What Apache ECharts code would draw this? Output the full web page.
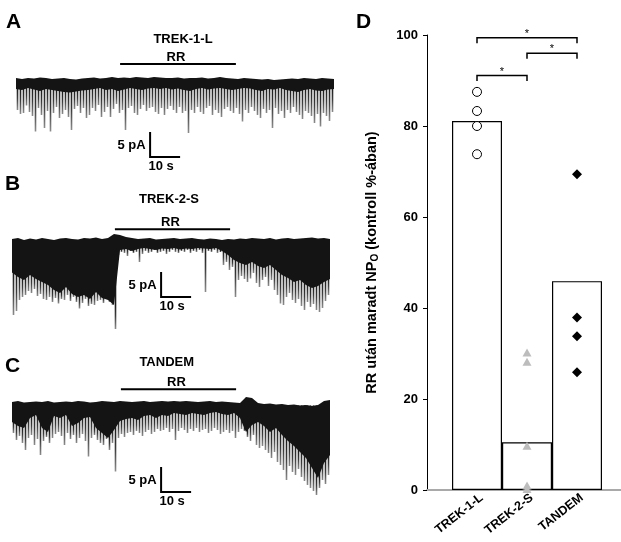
<!DOCTYPE html>
<html><head><meta charset="utf-8">
<script src="https://cdn.jsdelivr.net/npm/echarts@6/dist/echarts.min.js"></script>
<style>html,body{margin:0;padding:0;background:#fff}#c{width:621px;height:542px}</style>
</head><body><div id="c"></div>
<script>
// ---------- Panel D data ----------
const CATEGORIES = ['TREK-1-L', 'TREK-2-S', 'TANDEM'];
const BAR_MEANS = [81.1, 10.5, 45.9];
const TREK1_POINTS = [87.5, 83.3, 80.0, 73.8];
const TREK2_POINTS = [30.2, 28.2, 9.7, 1.0, 0.2];
const TANDEM_POINTS = [69.4, 37.9, 33.8, 25.9];
const Y_TICKS = [0, 20, 40, 60, 80, 100];
const SIG_PAIRS = [[1, 3, 99.4], [2, 3, 96.0], [1, 2, 91.1]];
const SIG_LABELS = ['*', '*', '*'];
const Y_NAME = 'RR után maradt NP{sub|O} (kontroll %-ában)';

// ---------- Panels A-C data (pA vs s) ----------
const TRACE_TITLES = ['TREK-1-L', 'TREK-2-S', 'TANDEM'];
const PANEL_LETTERS = ['A', 'B', 'C', 'D'];
const DRUG_LABEL = 'RR';
const SCALE_PA = 5, SCALE_S = 10;
const SCALE_LABELS = ['5 pA', '10 s'];
const BAND_STEP = 2;   // s between band samples
const TIP_STEP = 1;    // s between spike samples
const RR_A = [34.7, 73.3];
const RR_B = [34.3, 72.7];
const RR_C = [36.3, 74.7];

const A_TOP = [-1.0,-1.2,-1.0,-1.1,-0.9,-1.0,-1.2,-1.1,-1.0,-1.2,
 -1.3,-1.1,-1.0,-0.9,-1.1,-1.0,-0.8,-1.0,-0.9,-1.0,
 -0.8,-0.9,-1.0,-0.8,-0.9,-1.0,-1.0,-0.9,-1.1,-1.0,
 -1.0,-0.9,-1.1,-1.0,-0.8,-1.0,-1.1,-1.2,-1.0,-1.1,
 -1.2,-1.3,-1.2,-1.4,-1.3,-1.2,-1.1,-1.2,-1.0,-1.1,
 -1.2,-1.0,-1.1,-1.2];
const A_DENSE = [-3.2,-3.4,-3.0,-3.3,-3.6,-3.2,-3.4,-3.6,-3.8,-3.9,
 -3.7,-3.5,-3.4,-3.2,-3.0,-3.4,-3.2,-3.6,-3.3,-3.0,
 -3.2,-3.4,-3.1,-3.0,-3.2,-3.0,-3.3,-3.1,-3.4,-3.6,
 -3.2,-3.0,-3.3,-3.1,-3.0,-3.2,-3.4,-3.2,-3.0,-3.1,
 -3.4,-3.6,-3.2,-3.3,-3.0,-3.4,-3.6,-3.8,-3.4,-3.2,
 -3.5,-3.6,-3.3,-3.2];
const A_TIPS = [-7.4,-8.2,-8.0,-6.5,-7.8,-8.6,-11.7,-7.0,-8.4,-11.0,
 -7.6,-11.7,-8.0,-6.8,-9.0,-8.2,-7.4,-8.8,-11.4,-7.2,
 -6.6,-8.0,-7.0,-9.0,-8.4,-7.0,-7.6,-6.4,-8.8,-7.8,
 -6.8,-8.8,-7.2,-6.2,-8.0,-7.4,-11.4,-7.0,-6.6,-8.0,
 -8.4,-7.2,-6.4,-7.6,-7.0,-6.8,-7.8,-8.2,-7.0,-8.4,
 -7.2,-6.6,-7.4,-8.0,-6.8,-8.0,-7.6,-12.0,-7.4,-8.0,
 -6.8,-7.8,-8.2,-7.0,-6.6,-8.4,-7.4,-8.0,-8.8,-7.2,
 -6.8,-7.6,-8.0,-7.0,-8.2,-9.7,-7.4,-8.0,-6.8,-7.6,
 -8.4,-9.0,-7.2,-8.0,-7.4,-11.0,-7.0,-8.2,-7.6,-9.0,
 -7.4,-8.0,-6.8,-7.8,-8.4,-9.2,-7.6,-8.0,-8.6,-10.0,
 -8.2,-10.7,-8.0,-8.6,-9.6,-7.8];

const B_TOP = [-0.8,-0.6,-1.0,-0.7,-0.9,-0.6,-0.8,-1.0,-0.7,-0.6,
 -0.8,-0.9,-0.6,-0.7,-0.5,-0.8,-0.6,0.2,0.0,-0.4,
 -0.6,-0.8,-0.7,-0.6,-0.9,-0.8,-0.7,-0.6,-0.8,-0.7,
 -0.6,-0.8,-0.9,-0.7,-0.8,-1.0,-0.8,-0.9,-0.7,-0.8,
 -0.6,-0.7,-0.8,-0.6,-0.9,-0.7,-0.6,-0.8,-0.7,-0.6,
 -0.5,-0.7,-0.6,-0.8];
const B_DENSE = [-7.5,-8.4,-9.0,-8.0,-8.8,-9.4,
 -10.0,-11.0,-11.6,-10.4,-11.8,-12.4,
 -12.0,-12.8,-11.4,-12.6,-13.0,-14.0,
 -3.0,-2.8,-3.2,-2.8,-2.6,-2.8,-3.0,-2.7,-2.8,-2.6,-2.9,-2.7,-2.8,-2.6,-2.7,-2.8,-2.6,
 -3.2,-4.0,-5.0,-5.6,-6.0,-5.4,-6.2,-6.6,-6.0,-7.0,
 -8.0,-8.6,-9.4,-9.0,-10.0,-10.6,-10.2,-9.4,-8.8];
const B_TIPS = [-16.0,-15.2,-13.0,-12.4,-12.0,-11.2,-11.6,-10.8,-12.2,-11.8,
 -12.8,-13.0,-12.4,-13.4,-12.6,-13.7,-12.8,-13.0,-12.0,-13.2,
 -12.4,-13.4,-14.7,-13.6,-12.8,-14.2,-13.8,-14.0,-13.2,-13.0,
 -13.6,-12.8,-13.4,-14.0,-18.8,-4.0,-3.4,-3.6,-4.2,-3.2,
 -3.6,-3.4,-5.4,-3.8,-3.2,-3.6,-3.4,-3.0,-3.6,-3.4,
 -3.2,-3.8,-3.4,-3.0,-3.4,-3.6,-3.2,-3.4,-3.0,-3.6,
 -3.2,-3.4,-3.0,-3.6,-11.4,-3.2,-3.4,-3.0,-3.6,-3.4,
 -6.0,-5.4,-7.0,-6.4,-12.4,-9.0,-8.2,-8.8,-9.4,-8.7,
 -7.6,-9.6,-10.4,-9.0,-8.4,-10.2,-9.0,-11.0,-12.0,-13.7,
 -14.0,-12.4,-11.6,-13.0,-13.6,-12.8,-14.2,-15.0,-13.4,-14.4,
 -13.8,-15.0,-15.4,-14.6,-13.2,-12.0];

const C_TOP = [-0.8,-0.6,-0.9,-0.8,-0.7,-0.8,-0.6,-0.9,-0.8,-0.7,
 -0.8,-0.6,-0.7,-0.9,-0.8,-0.6,-0.7,-0.8,-0.6,-0.7,
 -0.8,-0.7,-0.6,-0.8,-0.7,-0.6,-0.7,-0.6,-0.7,-0.6,
 -0.7,-0.8,-0.7,-0.6,-0.8,-0.7,-0.8,-0.9,-1.0,0.2,0.0,
 -1.0,-1.2,-1.1,-1.3,-1.2,-1.4,-1.3,-1.5,-1.4,-1.6,-1.4,
 -0.6,-0.4];
const C_DENSE = [-4.8,-5.6,-6.0,-4.0,-3.4,-6.0,-6.8,-3.6,-4.0,-3.4,
 -5.6,-5.0,-4.0,-3.8,-6.0,-7.0,-8.0,-6.4,-4.6,-4.2,-4.0,-4.4,
 -3.6,-3.4,-4.0,-3.4,-3.6,-3.0,-3.2,-3.4,-3.0,-3.2,-3.4,-3.0,-2.8,-3.2,-3.4,-3.0,-4.0,
 -6.8,-5.4,-4.8,-5.6,-6.8,-6.0,
 -7.4,-8.6,-9.6,-10.8,-12.0,-14.0,-16.0,-13.0,-11.4];
const C_TIPS = [-7.0,-8.4,-7.6,-9.0,-10.4,-8.0,-7.4,-9.4,-8.2,-11.4,
 -8.6,-7.8,-9.0,-8.0,-7.2,-6.8,-7.6,-9.4,-7.0,-8.2,
 -7.4,-9.0,-8.0,-7.2,-8.6,-11.7,-8.0,-7.4,-8.4,-9.0,
 -9.4,-8.2,-10.4,-9.0,-14.7,-8.0,-7.2,-7.8,-7.0,-6.8,
 -7.4,-6.6,-7.0,-7.6,-6.8,-6.4,-7.2,-6.8,-6.2,-6.6,
 -6.4,-6.0,-6.8,-6.2,-8.4,-6.6,-6.0,-6.4,-7.0,-6.2,
 -6.6,-6.0,-6.8,-6.4,-6.2,-7.0,-6.6,-6.0,-6.4,-7.2,
 -6.8,-6.4,-7.0,-6.6,-8.0,-6.8,-6.2,-6.6,-7.8,-8.6,
 -7.4,-9.4,-10.0,-9.6,-10.4,-11.0,-12.0,-10.8,-12.8,-13.4,
 -14.4,-16.4,-13.6,-14.8,-15.4,-14.2,-15.8,-16.6,-17.4,-18.0,
 -18.6,-19.4,-18.0,-16.4,-17.2,-15.4];

// ---------- layout / style ----------
const FONT = 'Liberation Sans, Arial, Helvetica, sans-serif';
const TRACE_DURATION = 106;
const TRACES = [
  { top: A_TOP, dense: A_DENSE, tips: A_TIPS, rr: RR_A,
    grid: { left: 16, top: 53, width: 318, height: 115 }, yMax: 4, yMin: -19,
    rrLevel: 1.8, scaleAt: [44.7, -16.8] },
  { top: B_TOP, dense: B_DENSE, tips: B_TIPS, rr: RR_B,
    grid: { left: 12, top: 215, width: 318, height: 115 }, yMax: 4, yMin: -19,
    rrLevel: 1.14, scaleAt: [49.7, -12.4] },
  { top: C_TOP, dense: C_DENSE, tips: C_TIPS, rr: RR_C,
    grid: { left: 12, top: 378, width: 318, height: 130 }, yMax: 4, yMin: -22,
    rrLevel: 1.74, scaleAt: [49.7, -18.8] }
];

const grids = [], xAxes = [], yAxes = [], series = [];
TRACES.forEach((tr, k) => {
  grids.push(tr.grid);
  xAxes.push({ type: 'value', gridIndex: k, min: 0, max: TRACE_DURATION, show: false });
  yAxes.push({ type: 'value', gridIndex: k, min: tr.yMin, max: tr.yMax, show: false });
  // individual spikes: dark near the band, fading to grey at the tip
  series.push({
    type: 'custom', xAxisIndex: k, yAxisIndex: k, z: 1, clip: false, silent: true,
    data: tr.tips.map((v, i) => [i * TIP_STEP + 0.5, v]),
    renderItem: (params, api) => {
      const t = api.value(0), tip = api.value(1);
      const p1 = api.coord([t, -1.5]);
      const p2 = api.coord([t, tip]);
      const dIdx = Math.min(tr.dense.length - 1, Math.round(t / BAND_STEP));
      const pd = api.coord([t, tr.dense[dIdx]]);
      let f = (pd[1] - p1[1]) / Math.max(1, p2[1] - p1[1]);
      f = Math.max(0, Math.min(0.9, f));
      const mid = Math.min(0.97, f + (1 - f) * 0.45);
      return { type: 'line', shape: { x1: p1[0], y1: p1[1], x2: p2[0], y2: p2[1] },
        style: { lineWidth: 1.6, stroke: { type: 'linear', global: true,
          x: p1[0], y: p1[1], x2: p2[0], y2: p2[1],
          colorStops: [{ offset: 0, color: '#111' }, { offset: f, color: '#1c1c1c' },
            { offset: mid, color: '#3c3c3c' }, { offset: 1, color: '#8c8c8c' }] } } };
    }
  });
  // noise band + dense openings
  series.push({
    type: 'custom', xAxisIndex: k, yAxisIndex: k, z: 2, clip: false, silent: true,
    data: [0],
    renderItem: (params, api) => {
      const pts = [];
      tr.top.forEach((v, i) => pts.push(api.coord([i * BAND_STEP, v])));
      for (let i = tr.dense.length - 1; i >= 0; i--) pts.push(api.coord([i * BAND_STEP, tr.dense[i]]));
      return { type: 'polygon', shape: { points: pts }, style: { fill: '#141414' } };
    }
  });
  // RR bar, scale bar and their labels
  series.push({
    type: 'custom', xAxisIndex: k, yAxisIndex: k, z: 3, clip: false, silent: true,
    data: [0],
    renderItem: (params, api) => {
      const r1 = api.coord([tr.rr[0], tr.rrLevel]);
      const r2 = api.coord([tr.rr[1], tr.rrLevel]);
      const corner = api.coord([tr.scaleAt[0], tr.scaleAt[1]]);
      const vTop = api.coord([tr.scaleAt[0], tr.scaleAt[1] + SCALE_PA]);
      const hEnd = api.coord([tr.scaleAt[0] + SCALE_S, tr.scaleAt[1]]);
      const txt = (t, x, y, align) => ({ type: 'text', x: x, y: y,
        style: { text: t, fontSize: 13, fontWeight: 'bold', fontFamily: FONT, fill: '#000',
          align: align, verticalAlign: 'middle' } });
      return { type: 'group', children: [
        { type: 'line', shape: { x1: r1[0], y1: r1[1], x2: r2[0], y2: r2[1] },
          style: { stroke: '#000', lineWidth: 2 } },
        txt(DRUG_LABEL, (r1[0] + r2[0]) / 2 - 2, r1[1] - 7, 'center'),
        { type: 'polyline', shape: { points: [vTop, corner, hEnd] },
          style: { stroke: '#000', lineWidth: 2, fill: null } },
        txt(SCALE_LABELS[0], corner[0] - 4.5, (vTop[1] + corner[1]) / 2 + 1, 'right'),
        txt(SCALE_LABELS[1], corner[0] + 11, corner[1] + 9.5, 'center')
      ] };
    }
  });
});

// ---------- Panel D ----------
const D = 3;
grids.push({ left: 427, top: 35, width: 194, height: 455 });
xAxes.push({
  type: 'value', gridIndex: D, min: 0, max: 3.88, interval: 1,
  axisLine: { show: true, lineStyle: { color: '#a9a9a9', width: 2 } },
  axisTick: { show: false }, splitLine: { show: false },
  axisLabel: { show: true, rotate: 38, margin: 10, fontSize: 12.5, fontWeight: 'bold',
    fontFamily: FONT, color: '#000', showMaxLabel: false, padding: [0, -6, 0, 0],
    formatter: v => CATEGORIES[v - 1] || '' }
});
yAxes.push({
  type: 'value', gridIndex: D, min: Y_TICKS[0], max: Y_TICKS[Y_TICKS.length - 1],
  interval: Y_TICKS[1] - Y_TICKS[0],
  axisLine: { show: true, onZero: false, lineStyle: { color: '#000', width: 1 } },
  axisTick: { show: true, length: 4, lineStyle: { color: '#000', width: 1 } },
  splitLine: { show: false },
  axisLabel: { fontSize: 13, fontWeight: 'bold', fontFamily: FONT, color: '#000', margin: 9 },
  name: Y_NAME, nameLocation: 'middle', nameRotate: 90, nameGap: 47,
  nameTextStyle: { fontSize: 14.5, fontWeight: 'bold', fontFamily: FONT, color: '#000',
    rich: { sub: { fontSize: 10, fontWeight: 'bold', fontFamily: FONT, color: '#000',
      verticalAlign: 'bottom', padding: [6, 0, 0, 0] } } }
});
series.push({
  type: 'bar', xAxisIndex: D, yAxisIndex: D, barWidth: 50, z: 2,
  data: BAR_MEANS.map((v, i) => [i + 1, v]),
  itemStyle: { color: '#fff', borderColor: '#000', borderWidth: 1.2 }
});
series.push({
  type: 'scatter', xAxisIndex: D, yAxisIndex: D, z: 4, symbol: 'circle', symbolSize: 9,
  data: TREK1_POINTS.map(v => [1, v]),
  itemStyle: { color: '#fff', borderColor: '#000', borderWidth: 1, opacity: 1 }
});
series.push({
  type: 'scatter', xAxisIndex: D, yAxisIndex: D, z: 4, symbol: 'triangle', symbolSize: [9, 8],
  data: TREK2_POINTS.map(v => [2, v]),
  itemStyle: { color: '#bdbdbd', opacity: 1 }
});
series.push({
  type: 'scatter', xAxisIndex: D, yAxisIndex: D, z: 4, symbol: 'diamond', symbolSize: 10,
  data: TANDEM_POINTS.map(v => [3, v]),
  itemStyle: { color: '#000', opacity: 1 }
});
series.push({
  type: 'custom', xAxisIndex: D, yAxisIndex: D, z: 5, clip: false, silent: true,
  data: SIG_PAIRS.map((p, i) => [p[0], p[1], p[2], i]),
  renderItem: (params, api) => {
    const a = api.coord([api.value(0), api.value(2)]);
    const b = api.coord([api.value(1), api.value(2)]);
    const drop = 5.5;
    return { type: 'group', children: [
      { type: 'polyline', shape: { points: [[a[0], a[1] + drop], a, b, [b[0], b[1] + drop]] },
        style: { stroke: '#000', lineWidth: 1.5, fill: null } },
      { type: 'text', x: (a[0] + b[0]) / 2, y: a[1] - 4,
        style: { text: SIG_LABELS[api.value(3)], fontSize: 11, fontFamily: FONT, fill: '#000',
          align: 'center', verticalAlign: 'middle' } }
    ] };
  }
});

// ---------- text labels ----------
const label = (t, x, y, size, align) => ({ type: 'text', x: x, y: y, z: 10,
  style: { text: t, fontSize: size, fontWeight: 'bold', fontFamily: FONT, fill: '#000',
    align: align, verticalAlign: 'middle' } });
const graphic = [
  label(PANEL_LETTERS[0], 6, 22.5, 21, 'left'),
  label(PANEL_LETTERS[1], 5, 184.5, 21, 'left'),
  label(PANEL_LETTERS[2], 5, 366, 21, 'left'),
  label(PANEL_LETTERS[3], 356, 22.5, 21, 'left'),
  label(TRACE_TITLES[0], 183, 39, 13, 'center'),
  label(TRACE_TITLES[1], 169, 199.5, 13, 'center'),
  label(TRACE_TITLES[2], 166.7, 362.5, 13, 'center')
];

const chart = echarts.init(document.getElementById('c'), null, { renderer: 'canvas' });
chart.setOption({
  backgroundColor: '#fff', animation: false,
  grid: grids, xAxis: xAxes, yAxis: yAxes, series: series, graphic: graphic
});
</script></body></html>
